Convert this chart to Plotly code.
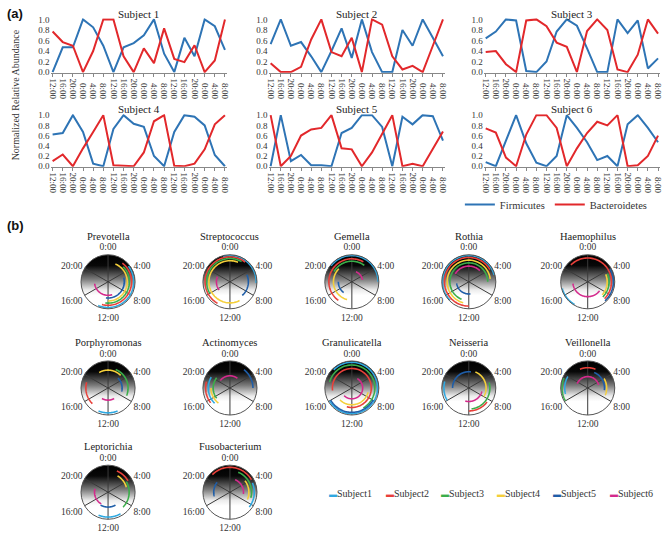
import base64
import numpy as np
import plotly.graph_objects as go

W, H = 670, 539
def X(px): return px / W
def Y(py): return 1 - py / H

SERIF = "Liberation Serif, Times New Roman, serif"
FS = "\u2007"  # figure space to align rotated tick labels at their far end

# ---------------- panel (a) data ----------------
time_labels = ["12:00", "16:00", "20:00", "0:00", "4:00", "8:00"] * 3
subject_titles = ["Subject 1", "Subject 2", "Subject 3", "Subject 4", "Subject 5", "Subject 6"]

firm_s1 = [0.0, 0.47, 0.47, 1.0, 0.85, 0.5, 0.0, 0.47, 0.55, 0.7, 1.0, 0.35, 0.0, 0.65, 0.3, 1.0, 0.87, 0.42]
bact_s1 = [0.77, 0.57, 0.5, 0.0, 0.4, 1.0, 1.0, 0.3, 0.0, 0.45, 0.17, 0.83, 0.25, 0.19, 0.51, 0.0, 0.22, 1.0]
firm_s2 = [0.53, 1.0, 0.5, 0.57, 0.3, 0.0, 0.4, 0.83, 0.27, 1.0, 0.38, 0.0, 0.0, 0.8, 0.5, 1.0, 0.65, 0.3]
bact_s2 = [0.17, 0.0, 0.0, 0.1, 0.62, 1.0, 0.38, 0.3, 0.65, 0.0, 1.0, 0.9, 0.3, 0.05, 0.12, 0.0, 0.5, 1.0]
firm_s3 = [0.64, 0.77, 1.0, 0.98, 0.02, 0.0, 0.2, 0.77, 1.0, 0.88, 0.45, 0.0, 0.0, 1.0, 0.74, 0.98, 0.07, 0.26]
bact_s3 = [0.38, 0.4, 0.15, 0.0, 0.98, 1.0, 0.87, 0.56, 0.48, 0.0, 0.78, 1.0, 0.8, 0.05, 0.0, 0.33, 1.0, 0.73]
firm_s4 = [0.62, 0.65, 1.0, 0.67, 0.05, 0.0, 0.73, 1.0, 0.83, 0.77, 0.2, 0.0, 0.67, 1.0, 0.97, 0.8, 0.22, 0.0]
bact_s4 = [0.1, 0.23, 0.0, 0.35, 0.67, 1.0, 0.02, 0.01, 0.0, 0.27, 0.88, 1.0, 0.01, 0.0, 0.05, 0.33, 0.82, 1.0]
firm_s5 = [0.0, 1.0, 0.1, 0.22, 0.02, 0.02, 0.0, 0.65, 0.75, 1.0, 1.0, 0.77, 0.0, 0.97, 0.82, 1.0, 0.98, 0.5]
bact_s5 = [1.0, 0.0, 0.2, 0.6, 0.72, 0.75, 1.0, 0.35, 0.33, 0.0, 0.27, 0.65, 1.0, 0.0, 0.05, 0.0, 0.35, 0.68]
firm_s6 = [0.08, 0.0, 0.5, 1.0, 0.45, 0.07, 0.0, 0.2, 1.0, 0.75, 0.47, 0.12, 0.2, 0.0, 0.82, 1.0, 0.75, 0.47]
bact_s6 = [0.74, 0.66, 0.17, 0.0, 0.62, 1.0, 1.0, 0.75, 0.0, 0.35, 0.65, 0.87, 0.8, 1.0, 0.0, 0.02, 0.2, 0.6]

firm_all = [firm_s1, firm_s2, firm_s3, firm_s4, firm_s5, firm_s6]
bact_all = [bact_s1, bact_s2, bact_s3, bact_s4, bact_s5, bact_s6]
y_ticks = [0.0, 0.2, 0.4, 0.6, 0.8, 1.0]

# ---------------- panel (b) data ----------------
genera = ["Prevotella", "Streptococcus", "Gemella", "Rothia", "Haemophilus",
          "Porphyromonas", "Actinomyces", "Granulicatella", "Neisseria", "Veillonella",
          "Leptorichia", "Fusobacterium"]
clock_labels = ["0:00", "4:00", "8:00", "12:00", "16:00", "20:00"]
subject_names = ["Subject1", "Subject2", "Subject3", "Subject4", "Subject5", "Subject6"]
subject_colors = ["#2fa8e0", "#e8403a", "#3aae4a", "#f4cf3a", "#1f5ea8", "#d42a8c"]

# flat arc table: genus index, subject index, start hour, end hour, ring radius
arc_genus = [0]*6 + [1]*6 + [2]*6 + [3]*6 + [4]*6 + [5]*6 + [6]*6 + [7]*6 + [8]*6 + [9]*6 + [10]*6 + [11]*6
arc_subject = [0, 1, 2, 3, 4, 5] * 12
arc_start = [3.5, 2.5, 3.0, 1.5, 5.0, 10.8,
             23.0, 14.0, 16.0, 10.2, 4.5, 15.5,
             20.5, 14.4, 20.0, 13.0, 14.5, 1.5,
             15.0, 12.0, 13.5, 13.0, 11.5, 20.0,
             14.0, 21.0, 4.5, 4.5, 4.0, 8.5,
             10.5, 15.0, 1.5, 22.0, 3.0, 10.0,
             15.0, 15.5, 15.5, 14.5, 2.5, 20.5,
             21.0, 17.5, 19.0, 7.0, 8.0, 2.0,
             16.0, 8.5, 5.0, 1.5, 18.0, 7.0,
             17.0, 22.5, 16.0, 4.0, 1.5, 19.5,
             10.0, 1.5, 4.0, 2.0, 10.0, 14.0,
             4.5, 21.0, 1.5, 3.5, 17.0, 1.5]
arc_end = [13.5, 13.0, 12.5, 12.0, 12.5, 17.5,
           6.2, 2.5, 2.0, 1.5, 9.2, 19.5,
           6.0, 2.0, 2.5, 21.0, 18.0, 5.3,
           5.0, 4.0, 6.0, 5.5, 17.5, 3.0,
           17.0, 9.0, 9.0, 8.8, 9.2, 17.5,
           13.5, 19.0, 7.5, 3.0, 7.0, 14.0,
           20.0, 19.0, 20.5, 18.0, 6.0, 2.5,
           16.0, 13.0, 10.0, 15.0, 16.0, 15.0,
           19.0, 12.0, 11.5, 8.0, 0.5, 13.0,
           20.0, 1.5, 19.5, 7.5, 6.5, 5.0,
           13.5, 4.0, 9.0, 5.0, 14.0, 19.0,
           8.5, 4.0, 7.0, 7.5, 20.5, 6.5]
arc_radius = [0.95, 0.87, 0.79, 0.71, 0.60, 0.50,
              0.97, 0.92, 0.86, 0.78, 0.68, 0.50,
              0.97, 0.85, 0.76, 0.68, 0.50, 0.40,
              0.97, 0.90, 0.70, 0.80, 0.45, 0.58,
              0.97, 0.88, 0.79, 0.72, 0.95, 0.55,
              0.92, 0.82, 0.74, 0.66, 0.52, 0.45,
              0.80, 0.90, 0.62, 0.70, 0.85, 0.45,
              0.95, 0.72, 0.85, 0.62, 0.90, 0.40,
              0.92, 0.85, 0.78, 0.64, 0.60, 0.50,
              0.85, 0.75, 0.95, 0.70, 0.62, 0.42,
              0.92, 0.85, 0.78, 0.70, 0.55, 0.50,
              0.90, 0.92, 0.80, 0.70, 0.60, 0.50]

# ---------------- figure ----------------
fig = go.Figure()
layout = dict()

col_px = [(48, 226), (268, 446), (485, 663)]
row_px = [(14.6, 69.8), (112.0, 165.5)]
FIRM_C, BACT_C = "#2e74b5", "#e2282b"
xs = list(range(18))
tick_text = [(FS + t) if len(t) == 4 else t for t in time_labels]

def note(text, px, py, size, family=SERIF, color="#222", **kw):
    d = dict(text=text, x=X(px), y=Y(py), xref="paper", yref="paper", showarrow=False,
             xanchor="center", yanchor="middle",
             font=dict(family=family, size=size, color=color))
    d.update(kw)
    return d

annotations = []
for i in range(6):
    r, c = divmod(i, 3)
    ax = "" if i == 0 else str(i + 1)
    x0, x1 = col_px[c]
    y0, y1 = row_px[r]
    fig.add_trace(go.Scatter(x=xs, y=firm_all[i], mode="lines", name="Firmicutes",
                             line=dict(color=FIRM_C, width=2), showlegend=(i == 0),
                             xaxis="x" + ax, yaxis="y" + ax))
    fig.add_trace(go.Scatter(x=xs, y=bact_all[i], mode="lines", name="Bacteroidetes",
                             line=dict(color=BACT_C, width=2), showlegend=(i == 0),
                             xaxis="x" + ax, yaxis="y" + ax))
    layout["xaxis" + ax] = dict(domain=[X(x0), X(x1)], range=[-0.2, 17.2], anchor="y" + ax,
                                tickmode="array", tickvals=xs, ticktext=tick_text,
                                tickangle=90, tickfont=dict(family=SERIF, size=9, color="#333"),
                                showline=True, linecolor="#888", linewidth=1,
                                ticks="outside", ticklen=3, tickcolor="#888",
                                showgrid=False, zeroline=False)
    layout["yaxis" + ax] = dict(domain=[Y(y1), Y(y0)], range=[-0.01, 1.02], anchor="x" + ax,
                                tickmode="array", tickvals=y_ticks,
                                ticktext=["%.1f" % v for v in y_ticks],
                                tickfont=dict(family=SERIF, size=9, color="#333"),
                                showline=False, showgrid=False, zeroline=False, ticks="")
    annotations.append(note(subject_titles[i], (x0 + x1) / 2, [10, 107][r], 11))

annotations.append(note("Normalized Relative Abundance", 13, 92, 10, color="#333", textangle=-90))
annotations.append(note("<b>(a)</b>", 2, 10, 13, family="Liberation Sans, Arial",
                        color="#111", xanchor="left"))
annotations.append(note("<b>(b)</b>", 2, 225, 13, family="Liberation Sans, Arial",
                        color="#111", xanchor="left"))

# gradient disc image (background of each clock)
svg = ("<svg xmlns='http://www.w3.org/2000/svg' width='200' height='200' viewBox='0 0 200 200'>"
       "<defs><linearGradient id='g' x1='0' y1='0' x2='0' y2='1'>"
       "<stop offset='0' stop-color='#000'/><stop offset='0.2' stop-color='#080808'/>"
       "<stop offset='0.45' stop-color='#7a7a7a'/><stop offset='0.65' stop-color='#ececec'/>"
       "<stop offset='0.75' stop-color='#fff'/><stop offset='1' stop-color='#fff'/>"
       "</linearGradient></defs><circle cx='100' cy='100' r='100' fill='url(#g)'/></svg>")
svg_uri = "data:image/svg+xml;base64," + base64.b64encode(svg.encode()).decode()

centers_x = [106, 229, 352, 470, 590]
centers_y = [282.5, 390.5, 496.5]
R = 27.5
images = []
for g, name in enumerate(genera):
    r, c = divmod(g, 5)
    cx, cy = centers_x[c], centers_y[r]
    key = "polar" if g == 0 else "polar%d" % (g + 1)
    layout[key] = dict(
        domain=dict(x=[X(cx - R), X(cx + R)], y=[Y(cy + R), Y(cy - R)]),
        bgcolor="rgba(0,0,0,0)",
        radialaxis=dict(visible=False, range=[0, 1]),
        angularaxis=dict(rotation=90, direction="clockwise", tickmode="array",
                         tickvals=[0, 60, 120, 180, 240, 300], ticktext=clock_labels,
                         showgrid=True, gridcolor="#3a3a3a", gridwidth=1,
                         showline=True, linecolor="#555", linewidth=1, ticks="",
                         tickfont=dict(family=SERIF, size=9.5, color="#333")))
    images.append(dict(source=svg_uri, xref="paper", yref="paper",
                       x=X(cx - R), y=Y(cy - R), sizex=2 * R / W, sizey=2 * R / H,
                       xanchor="left", yanchor="top", sizing="stretch", layer="below"))
    annotations.append(note(name, cx, cy - 46.5, 10.5))

for k in range(len(arc_genus)):
    g = arc_genus[k]
    key = "polar" if g == 0 else "polar%d" % (g + 1)
    s, e = arc_start[k], arc_end[k]
    if e <= s:
        e += 24
    theta = np.linspace(s, e, 60) * 15.0
    fig.add_trace(go.Scatterpolar(r=[arc_radius[k]] * len(theta), theta=theta, mode="lines",
                                  line=dict(color=subject_colors[arc_subject[k]], width=1.6),
                                  subplot=key, showlegend=False, hoverinfo="skip"))

# legend for panel (b)
leg_x = [327, 384, 440, 496, 553, 610]
for i, nm in enumerate(subject_names):
    annotations.append(note("<span style='color:%s;font-size:8px'>▬</span>%s" % (subject_colors[i], nm),
                            leg_x[i], 498, 10, color="#333", xanchor="left"))

fig.update_layout(**layout)
fig.update_layout(
    width=W, height=H, margin=dict(l=0, r=0, t=0, b=0),
    paper_bgcolor="white", plot_bgcolor="rgba(0,0,0,0)",
    annotations=annotations, images=images,
    legend=dict(orientation="h", x=X(461), y=Y(204), xanchor="left", yanchor="middle",
                font=dict(family=SERIF, size=10.5, color="#333"), itemwidth=30,
                bgcolor="rgba(0,0,0,0)"),
)
fig.write_html("out.html", config={"displayModeBar": False},
               post_script="document.body.style.margin='0px';")
